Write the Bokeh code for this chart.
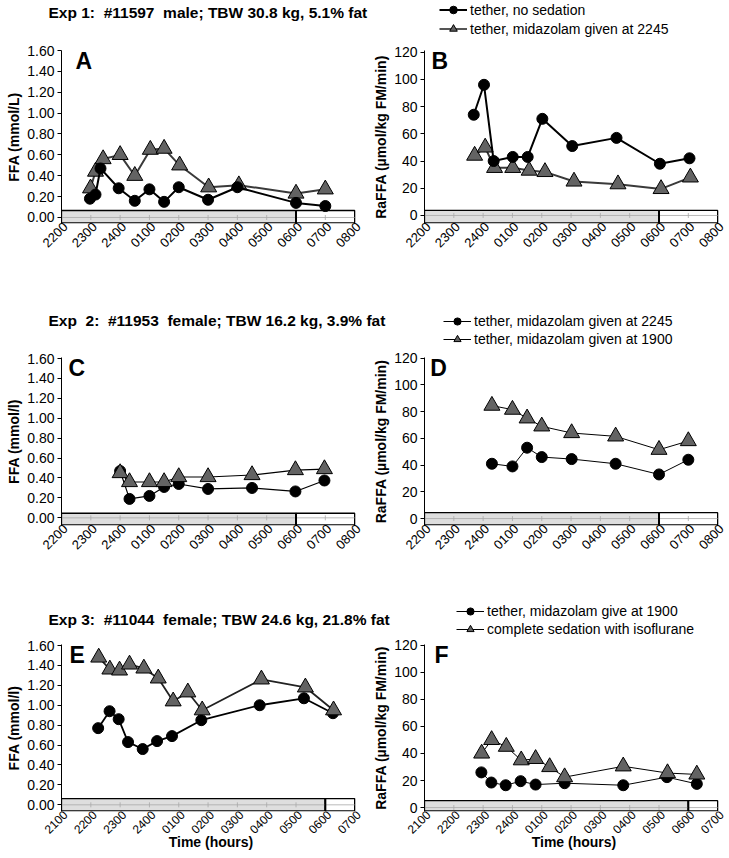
import math
from bokeh.plotting import figure
from bokeh.layouts import column, row
from bokeh.models import (FixedTicker, Label, Legend, LegendItem, Range1d,
                          NumeralTickFormatter, CustomJSTickFormatter)
from bokeh.embed import file_html
from bokeh.resources import INLINE

FONT = "Liberation Sans"

# ---------------- data ----------------
titles = ["Exp 1:\u00a0 #11597\u00a0 male; TBW 30.8 kg, 5.1% fat",
          "Exp\u00a0 2:\u00a0 #11953\u00a0 female; TBW 16.2 kg, 3.9% fat",
          "Exp 3:\u00a0 #11044\u00a0 female; TBW 24.6 kg, 21.8% fat"]
legend_labels = [["tether, no sedation", "tether, midazolam given at 2245"],
                 ["tether, midazolam given at 2245", "tether, midazolam given at 1900"],
                 ["tether, midazolam give at 1900", "complete sedation with isoflurane"]]

hour_labels_top = ["2200", "2300", "2400", "0100", "0200", "0300", "0400", "0500", "0600", "0700", "0800"]
hour_labels_bottom = ["2100", "2200", "2300", "2400", "0100", "0200", "0300", "0400", "0500", "0600", "0700"]
hour_pos = [0, 1, 2, 3, 4, 5, 6, 7, 8, 9, 10]
lights_on_top = 8        # 0600 on the 2200-0800 axis
lights_on_bottom = 9     # 0600 on the 2100-0700 axis

ffa_ticks = [0.0, 0.2, 0.4, 0.6, 0.8, 1.0, 1.2, 1.4, 1.6]
ra_ticks = [0, 20, 40, 60, 80, 100, 120]

# Panel A (FFA, mmol/L), hours after 2200
a_circ_t = [0.97, 1.16, 1.33, 1.95, 2.5, 3.0, 3.5, 4.0, 5.0, 6.0, 8.0, 9.0]
a_circ_v = [0.18, 0.22, 0.47, 0.28, 0.16, 0.27, 0.15, 0.29, 0.17, 0.29, 0.14, 0.11]
a_tri_t = [0.99, 1.16, 1.42, 2.0, 2.5, 3.03, 3.5, 4.03, 5.02, 6.05, 8.0, 9.0]
a_tri_v = [0.28, 0.44, 0.56, 0.60, 0.40, 0.65, 0.66, 0.50, 0.29, 0.31, 0.23, 0.27]

# Panel B (RaFFA)
b_circ_t = [1.68, 2.03, 2.36, 3.01, 3.52, 4.02, 5.04, 6.55, 8.03, 9.04]
b_circ_v = [74, 96, 40, 43, 43, 71, 51, 57, 38, 42]
b_tri_t = [1.71, 2.07, 2.39, 3.01, 3.57, 4.11, 5.1, 6.6, 8.07, 9.07]
b_tri_v = [44, 50, 35, 35, 33, 32, 25, 23, 19.5, 28]

# Panel C
c_t = [2.0, 2.32, 3.0, 3.5, 4.0, 5.0, 6.5, 7.98, 8.97]
c_circ_v = [0.47, 0.19, 0.22, 0.31, 0.34, 0.29, 0.30, 0.265, 0.375]
c_tri_v = [0.45, 0.36, 0.36, 0.36, 0.41, 0.41, 0.43, 0.48, 0.49]

# Panel D
d_t = [2.3, 3.0, 3.5, 4.0, 5.02, 6.52, 8.0, 9.0]
d_circ_v = [41, 39, 53, 46, 44.5, 41, 33, 44]
d_tri_v = [84.5, 81.5, 75, 69, 64, 61.5, 51.5, 58]

# Panel E (hours after 2100)
e_tri_t = [1.27, 1.65, 1.98, 2.32, 2.81, 3.3, 3.81, 4.31, 4.8, 6.82, 8.32, 9.28]
e_tri_v = [1.48, 1.36, 1.35, 1.41, 1.37, 1.27, 1.04, 1.13, 0.95, 1.26, 1.18, 0.95]
e_circ_t = [1.25, 1.64, 1.95, 2.27, 2.77, 3.26, 3.77, 4.77, 6.76, 8.27, 9.26]
e_circ_v = [0.77, 0.94, 0.86, 0.63, 0.56, 0.64, 0.69, 0.85, 1.00, 1.07, 0.92]

# Panel F
f_tri_t = [1.95, 2.29, 2.79, 3.3, 3.79, 4.27, 4.78, 6.78, 8.29, 9.29]
f_tri_v = [40, 50, 45, 35, 36, 30, 22.5, 30.5, 25.5, 24.5]
f_circ_t = [1.94, 2.28, 2.77, 3.28, 3.79, 4.78, 6.78, 8.27, 9.29]
f_circ_v = [26, 18.5, 16.5, 19.5, 17, 18, 16.5, 22.5, 17.5]

TRI_FILL = "#636363"
BAR_FILL = "#dedede"
LABEL_SHIFT = 0.13   # rotated hour labels end slightly right of their hour


def make_panel(left, y_rng, frame_h, top, bottom, yticks, yfmt, ylabel, xlabels, lights_on,
               circ, tri, lw, tri_line, letter, letter_x, bar_top, circles_on_top,
               xlabel=None, xfont="13px"):
    y0, y1 = y_rng
    p = figure(frame_width=299, frame_height=frame_h,
               min_border_left=61 if left else 51, min_border_right=10 if left else 5,
               min_border_top=top, min_border_bottom=bottom,
               x_range=Range1d(0, 10.2), y_range=Range1d(y0, y1),
               output_backend="svg", toolbar_location=None)
    p.outline_line_color = None
    p.grid.visible = False
    ax = p.yaxis[0]
    ax.ticker = FixedTicker(ticks=yticks)
    ax.formatter = NumeralTickFormatter(format=yfmt)
    ax.axis_label = ylabel
    ax.axis_label_text_font = FONT
    ax.axis_label_text_font_style = "bold"
    ax.axis_label_text_font_size = "14px"
    ax.axis_label_text_color = "black"
    ax.axis_label_standoff = 2
    ax.major_label_text_font = FONT
    ax.major_label_text_font_size = "14px"
    ax.major_label_text_color = "black"
    ax.major_label_standoff = 3
    ax.major_tick_out = 4
    ax.major_tick_in = 0
    ax.minor_tick_out = 0
    ax.minor_tick_in = 0
    ax.axis_line_color = "black"
    ax.major_tick_line_color = "black"

    xa = p.xaxis[0]
    xa.ticker = FixedTicker(ticks=[h + LABEL_SHIFT for h in hour_pos])
    xa.formatter = CustomJSTickFormatter(args=dict(labels=xlabels, shift=LABEL_SHIFT),
                                         code="return labels[Math.round(tick - shift)];")
    xa.major_label_orientation = math.pi / 4
    xa.major_label_text_font = FONT
    xa.major_label_text_font_size = xfont
    xa.major_label_text_color = "black"
    xa.major_label_standoff = 1
    xa.axis_line_color = None
    xa.major_tick_line_color = None
    xa.major_tick_out = 0
    xa.major_tick_in = 0
    xa.minor_tick_line_color = None
    xa.minor_tick_out = 0
    xa.minor_tick_in = 0
    if xlabel:
        xa.axis_label = xlabel
        xa.axis_label_text_font = FONT
        xa.axis_label_text_font_style = "bold"
        xa.axis_label_text_font_size = "14px"
        xa.axis_label_text_color = "black"
        xa.axis_label_standoff = -7

    px = (y1 - y0) / frame_h
    # lights-off / lights-on bar
    p.quad(left=[0], right=[lights_on], bottom=[y0 + 0.7 * px], top=[bar_top],
           fill_color=BAR_FILL, line_color="black", line_width=1.3)
    p.quad(left=[lights_on], right=[10], bottom=[y0 + 0.7 * px], top=[bar_top],
           fill_color="white", line_color="black", line_width=1.3)
    p.segment(x0=[0], y0=[0], x1=[10], y1=[0], line_color="#a8a8a8", line_width=0.8)
    p.segment(x0=hour_pos[1:-1], y0=[-2.5 * px] * 9, x1=hour_pos[1:-1], y1=[2.5 * px] * 9,
              line_color="#a8a8a8", line_width=0.8)
    p.segment(x0=[lights_on], y0=[y0 + 0.7 * px], x1=[lights_on], y1=[bar_top],
              line_color="black", line_width=2)

    ct, cv = circ
    tt, tv = tri

    def draw_c():
        p.line(ct, cv, line_color="black", line_width=lw)
        p.scatter(ct, cv, marker="circle", size=11, fill_color="black", line_color="black")

    def draw_t():
        p.line(tt, tv, line_color=tri_line, line_width=lw)
        p.scatter(tt, tv, marker="triangle", size=16, fill_color=TRI_FILL,
                  line_color="black", line_width=1)

    if circles_on_top:
        draw_t(); draw_c()
    else:
        draw_c(); draw_t()

    p.add_layout(Label(x=letter_x, y=y1, text=letter, text_baseline="top",
                       text_font=FONT, text_font_style="bold", text_font_size="23px",
                       y_offset=3, text_color="black"))
    return p


def make_strip(h, title, title_y, labels, leg_x, leg_y, row_h, lw, tri_line):
    s = figure(width=725, height=h, x_range=Range1d(0, 725), y_range=Range1d(0, h),
               min_border=0, x_axis_location=None, y_axis_location=None,
               output_backend="svg", toolbar_location=None)
    s.outline_line_color = None
    s.grid.visible = False
    s.add_layout(Label(x=48, y=title_y, text=title, text_baseline="middle",
                       text_font=FONT, text_font_style="bold", text_font_size="15.5px",
                       text_color="black"))
    # legend proxies (kept outside the visible range; only their swatches are shown)
    l1 = s.line(x=[-100, -90], y=[-100, -100], line_color="black", line_width=lw)
    m1 = s.scatter(x=[-100], y=[-100], marker="circle", size=11, fill_color="black",
                   line_color="black")
    l2 = s.line(x=[-100, -90], y=[-100, -100], line_color=tri_line, line_width=lw)
    m2 = s.scatter(x=[-100], y=[-100], marker="triangle", size=16, fill_color=TRI_FILL,
                   line_color="black", line_width=1)
    leg = Legend(items=[LegendItem(label=labels[0], renderers=[l1, m1]),
                        LegendItem(label=labels[1], renderers=[l2, m2])],
                 location=(leg_x, leg_y), orientation="vertical",
                 label_text_font=FONT, label_text_font_size="14px", label_text_color="black",
                 label_height=row_h, glyph_height=row_h, glyph_width=28, label_standoff=3,
                 spacing=0, padding=0, margin=0, border_line_color=None,
                 background_fill_alpha=0)
    s.add_layout(leg)
    return s


strip1 = make_strip(44, titles[0], 32, legend_labels[0], 439, 6, 19, 2, "#555555")
pa = make_panel(True, (-0.0575, 1.6), 173, 6, 67, ffa_ticks, "0.00", "FFA (mmol/L)",
                hour_labels_top, lights_on_top, (a_circ_t, a_circ_v), (a_tri_t, a_tri_v),
                2, "#3a3a3a", "A", 0.48, 0.067, True)
pb = make_panel(False, (-5.9, 121.2), 173, 6, 67, ra_ticks, "0", "RaFFA (\u00b5mol/kg FM/min)",
                hour_labels_top, lights_on_top, (b_circ_t, b_circ_v), (b_tri_t, b_tri_v),
                2, "#3a3a3a", "B", 0.24, 3.7, True)

strip2 = make_strip(60, titles[1], 30, legend_labels[1], 443, 2, 18, 1, "black")
pc = make_panel(True, (-0.077, 1.61), 168, 7, 55, ffa_ticks, "0.00", "FFA (mmol/l)",
                hour_labels_top, lights_on_top, (c_t, c_circ_v), (c_t, c_tri_v),
                1.2, "black", "C", 0.24, 0.046, False)
pd_ = make_panel(False, (-5.2, 120.5), 168, 7, 55, ra_ticks, "0", "RaFFA (\u00b5mol/kg FM/min)",
                 hour_labels_top, lights_on_top, (d_t, d_circ_v), (d_t, d_tri_v),
                 1, "black", "D", 0.2, 4.4, False)

strip3 = make_strip(58, titles[2], 19, legend_labels[2], 456, 0, 18, 1, "black")
pe = make_panel(True, (-0.067, 1.61), 167, 6, 45, ffa_ticks, "0.00", "FFA (mmol/l)",
                hour_labels_bottom, lights_on_bottom, (e_circ_t, e_circ_v), (e_tri_t, e_tri_v),
                1.8, "#222222", "E", 0.27, 0.063, False, "Time (hours)", "12px")
pf = make_panel(False, (-2.9, 120.5), 167, 6, 45, ra_ticks, "0", "RaFFA (\u00b5mol/kg FM/min)",
                hour_labels_bottom, lights_on_bottom, (f_circ_t, f_circ_v), (f_tri_t, f_tri_v),
                1, "black", "F", 0.34, 5.1, False, "Time (hours)", "12px")

layout = column(strip1, row(pa, pb), strip2, row(pc, pd_), strip3, row(pe, pf))
open("out.html", "w").write(file_html(layout, INLINE))
